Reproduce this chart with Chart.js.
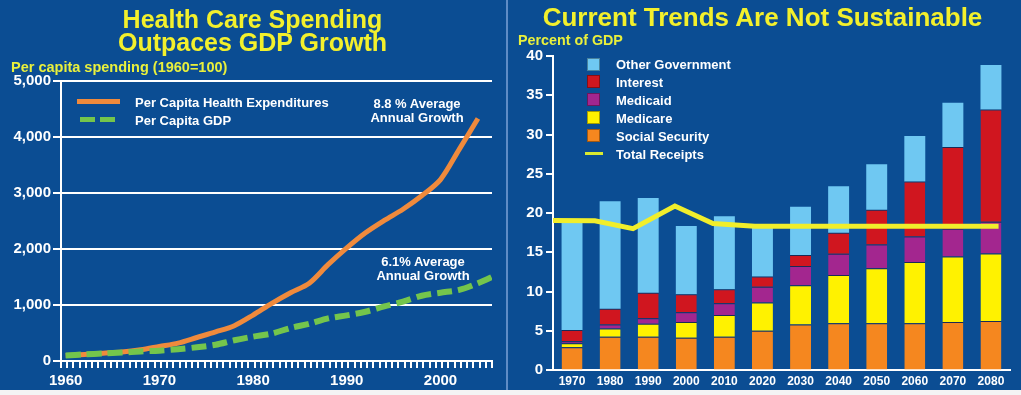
<!DOCTYPE html>
<html><head><meta charset="utf-8">
<script src="https://cdn.jsdelivr.net/npm/chart.js@4"></script>
<style>
html,body{margin:0;padding:0;background:#f4f4f4;width:1021px;height:395px;overflow:hidden;font-family:'Liberation Sans',Arial,Helvetica,sans-serif;}
.panel{position:absolute;top:0;height:390px;background:#0b4d93;}
#pl{left:0;width:506px;}
#pr{left:508px;width:513px;}
#sep{position:absolute;left:506px;top:0;width:2px;height:390px;background:#5f8cc6;}
.cw{position:absolute;top:0;height:390px;}
.t{position:absolute;white-space:nowrap;font-weight:bold;line-height:1;}
.c{transform:translate(-50%,-50%);}
.l{transform:translateY(-50%);}
.title{color:#f3f02c;font-size:25px;}
.sub{color:#e9f03c;font-size:14.5px;}
.w{color:#ffffff;font-size:13px;}
.sw{position:absolute;}
.sq{position:absolute;width:13px;height:13px;box-sizing:border-box;border:1px solid rgba(0,0,0,0.35);}
</style>
</head><body>
<div class="panel" id="pl"></div>
<div class="panel" id="pr"></div>
<div id="sep"></div>
<div class="cw" style="left:0;width:506px;"><canvas id="c1"></canvas></div>
<div class="cw" style="left:508px;width:513px;"><canvas id="c2"></canvas></div>

<div class="t c title" style="left:252.5px;top:18.5px;">Health Care Spending</div>
<div class="t c title" style="left:252.5px;top:42px;">Outpaces GDP Growth</div>
<div class="t l sub" style="left:11px;top:67px;">Per capita spending (1960=100)</div>

<div class="sw" style="left:77px;top:99px;width:43px;height:5px;background:#f08a3c;"></div>
<div class="sw" style="left:80px;top:117px;width:15px;height:5px;background:#74c54c;"></div>
<div class="sw" style="left:100px;top:117px;width:15px;height:5px;background:#74c54c;"></div>
<div class="t l w" style="left:135px;top:102px;">Per Capita Health Expenditures</div>
<div class="t l w" style="left:135px;top:120px;">Per Capita GDP</div>
<div class="t c w" style="left:417px;top:103px;">8.8 % Average</div>
<div class="t c w" style="left:417px;top:117px;">Annual Growth</div>
<div class="t c w" style="left:423px;top:261px;">6.1% Average</div>
<div class="t c w" style="left:423px;top:274.5px;">Annual Growth</div>

<div class="t c title" style="left:762.5px;top:17px;font-size:26px;">Current Trends Are Not Sustainable</div>
<div class="t l sub" style="left:518px;top:40px;font-size:14.3px;">Percent of GDP</div>

<div id="leg2"></div>

<script>
// ---------- Left chart data ----------
const healthYears  = [1960,1962,1964,1966,1968,1970,1972,1974,1976,1978,1980,1982,1984,1986,1988,1990,1992,1994,1996,1998,2000,2002,2004];
const healthValues = [100, 118, 140, 160, 200, 260, 320, 420, 520, 630, 820,1030,1220,1390,1720,2020,2290,2510,2710,2950,3240,3780,4330];
const gdpYears  = [1960,1962,1964,1966,1968,1970,1972,1974,1976,1978,1980,1982,1984,1986,1988,1990,1992,1994,1996,1998,2000,2002,2004,2006];
const gdpValues = [100, 118, 135, 150, 170, 185, 210, 245, 290, 370, 435, 490, 590, 665, 760, 815, 880, 975,1060,1165,1220,1270,1390,1540];
const leftYTicks = [0,1000,2000,3000,4000,5000];
const leftYLabels = ['0','1,000','2,000','3,000','4,000','5,000'];
const leftXLabels = [1960,1970,1980,1990,2000];

// ---------- Right chart data ----------
const budgetYears = ['1970','1980','1990','2000','2010','2020','2030','2040','2050','2060','2070','2080'];
const socialSecurity = [2.9, 4.25, 4.25, 4.1, 4.25, 5.0, 5.8, 5.95, 5.95, 5.95, 6.1, 6.25];
const medicare       = [0.5, 1.05, 1.65, 2.0, 2.75, 3.6, 5.0, 6.15, 7.0, 7.8, 8.35, 8.6];
const medicaid       = [0.25, 0.5, 0.7, 1.25, 1.5, 2.0, 2.45, 2.7, 3.05, 3.25, 3.55, 4.05];
const interest       = [1.45, 2.0, 3.25, 2.3, 1.8, 1.3, 1.4, 2.7, 4.4, 7.0, 10.4, 14.3];
const otherGov       = [13.9, 13.7, 12.05, 8.7, 9.3, 6.3, 6.15, 5.9, 5.8, 5.8, 5.65, 5.65];
const receiptYears  = [1965, 1976, 1986, 1997, 2007, 2018, 2082];
const receiptValues = [19.05, 19.0, 18.0, 20.9, 18.65, 18.3, 18.3];
const rightYTicks = [0,5,10,15,20,25,30,35,40];

// minor tick-mark positions along the left x axis (axis decoration only)
const leftMinorTicks = [];
for (let k = 0; k <= 69; k++) leftMinorTicks.push(1959.5 + k * 2 / 3);

const FONT = "'Liberation Sans', Arial, Helvetica, sans-serif";
Chart.defaults.font.family = FONT;
Chart.defaults.font.weight = 'bold';
Chart.defaults.color = '#ffffff';
const CLEAR = 'rgba(0,0,0,0)';

// Small tick marks drawn through the scale's own pixel mapping
function tickMarkPlugin(axisId, values, len) {
  return {
    id: 'tickmarks' + axisId,
    afterDatasetsDraw(chart) {
      const s = chart.scales[axisId];
      const ctx = chart.ctx;
      ctx.save();
      ctx.strokeStyle = '#ffffff';
      ctx.lineWidth = 2;
      ctx.lineCap = 'butt';
      for (const v of values) {
        const p = Math.round(s.getPixelForValue(v));
        ctx.beginPath();
        if (s.isHorizontal()) { ctx.moveTo(p, s.top); ctx.lineTo(p, s.top + len); }
        else { ctx.moveTo(s.right, p); ctx.lineTo(s.right - len, p); }
        ctx.stroke();
      }
      ctx.restore();
    }
  };
}

// ---------- Left chart ----------
new Chart(document.getElementById('c1'), {
  type: 'line',
  data: {
    datasets: [
      { label: 'Per Capita Health Expenditures',
        data: healthYears.map((x, i) => ({ x, y: healthValues[i] })),
        borderColor: '#f08a3c', borderWidth: 5, pointRadius: 0, tension: 0.3, order: 1 },
      { label: 'Per Capita GDP',
        data: gdpYears.map((x, i) => ({ x, y: gdpValues[i] })),
        borderColor: '#74c54c', borderWidth: 6, borderDash: [15, 6], pointRadius: 0, tension: 0.3, order: 0 }
    ]
  },
  plugins: [tickMarkPlugin('x', leftMinorTicks, 7)],
  options: {
    responsive: true, maintainAspectRatio: false, animation: false, devicePixelRatio: 1,
    layout: { padding: { top: 81, right: 14, left: 0, bottom: 0 } },
    plugins: { legend: { display: false }, tooltip: { enabled: false } },
    scales: {
      x: {
        type: 'linear', min: 1959.5, max: 2005.5, offset: false,
        afterFit(s) { s.height = 29; },
        afterBuildTicks(s) { s.ticks = leftXLabels.map(v => ({ value: v })); },
        border: { color: '#ffffff', width: 2 },
        grid: { drawOnChartArea: false, drawTicks: true, tickLength: 7, tickColor: CLEAR, color: CLEAR },
        ticks: { autoSkip: false, maxRotation: 0, minRotation: 0, padding: 4,
                 color: '#ffffff', font: { size: 15, weight: 'bold' },
                 callback: (v) => String(v) }
      },
      y: {
        min: 0, max: 5000,
        afterFit(s) { s.width = 61; },
        afterBuildTicks(s) { s.ticks = leftYTicks.map(v => ({ value: v })); },
        border: { color: '#ffffff', width: 2 },
        grid: { color: '#ffffff', lineWidth: 2, tickLength: 8, tickColor: '#ffffff', tickWidth: 2 },
        ticks: { padding: 2, color: '#ffffff', font: { size: 15, weight: 'bold' },
                 callback: (v, i) => leftYLabels[i] }
      }
    }
  }
});

// ---------- Right chart ----------
const segBorder = 'rgba(35,20,45,0.6)';
const barCommon = { barPercentage: 0.55, categoryPercentage: 1.0, grouped: false, order: 1,
                    borderColor: segBorder, borderWidth: { top: 1, left: 0, right: 0, bottom: 0 }, borderSkipped: false };
const chart2 = new Chart(document.getElementById('c2'), {
  type: 'bar',
  data: {
    labels: budgetYears,
    datasets: [
      { type: 'line', label: 'Total Receipts', xAxisID: 'x2', yAxisID: 'y',
        data: receiptYears.map((x, i) => ({ x, y: receiptValues[i] })),
        borderColor: '#f1ee2b', borderWidth: 5, pointRadius: 0, tension: 0, order: 0 },
      Object.assign({ label: 'Social Security', data: socialSecurity, backgroundColor: '#f5871f' }, barCommon),
      Object.assign({ label: 'Medicare', data: medicare, backgroundColor: '#fff200' }, barCommon),
      Object.assign({ label: 'Medicaid', data: medicaid, backgroundColor: '#a3268f' }, barCommon),
      Object.assign({ label: 'Interest', data: interest, backgroundColor: '#d0161f' }, barCommon),
      Object.assign({ label: 'Other Government', data: otherGov, backgroundColor: '#6fc8f2' }, barCommon, { borderWidth: 0 })
    ]
  },
  plugins: [tickMarkPlugin('y', rightYTicks, 7)],
  options: {
    responsive: true, maintainAspectRatio: false, animation: false, devicePixelRatio: 1,
    layout: { padding: { top: 56, right: 11, left: 0, bottom: 0 } },
    plugins: { legend: { display: false }, tooltip: { enabled: false } },
    scales: {
      x: {
        type: 'category', stacked: true, offset: true,
        afterFit(s) { s.height = 20; },
        border: { color: '#ffffff', width: 2 },
        grid: { display: true, drawOnChartArea: false, drawTicks: false, offset: true },
        ticks: { padding: 4, color: '#ffffff', font: { size: 12, weight: 'bold' }, maxRotation: 0, autoSkip: false }
      },
      x2: { type: 'linear', min: 1965, max: 2085, display: false, offset: false, grid: { offset: false } },
      y: {
        stacked: true, min: 0, max: 40,
        afterFit(s) { s.width = 45; },
        afterBuildTicks(s) { s.ticks = rightYTicks.map(v => ({ value: v })); },
        border: { color: '#ffffff', width: 2 },
        grid: { drawOnChartArea: false, drawTicks: true, tickLength: 7, tickColor: CLEAR, color: CLEAR },
        ticks: { padding: 3, color: '#ffffff', font: { size: 15, weight: 'bold' } }
      }
    }
  }
});

// ---------- Right legend (HTML, from dataset styles) ----------
const legendOrder = ['Other Government', 'Interest', 'Medicaid', 'Medicare', 'Social Security', 'Total Receipts'];
const leg = document.getElementById('leg2');
legendOrder.forEach((name, i) => {
  const ds = chart2.data.datasets.find(d => d.label === name);
  const cy = 64 + i * 17.9;
  const s = document.createElement('div');
  if (ds.type === 'line') {
    s.className = 'sw';
    s.style.cssText = `left:585px;top:${cy - 1.5}px;width:18px;height:3px;background:#d9ea30;`;
  } else {
    s.className = 'sq';
    s.style.cssText = `left:587px;top:${cy - 6.5}px;background:${ds.backgroundColor};`;
  }
  leg.appendChild(s);
  const t = document.createElement('div');
  t.className = 't l w';
  t.style.cssText = `left:616px;top:${cy}px;`;
  t.textContent = name;
  leg.appendChild(t);
});
</script>
</body></html>
